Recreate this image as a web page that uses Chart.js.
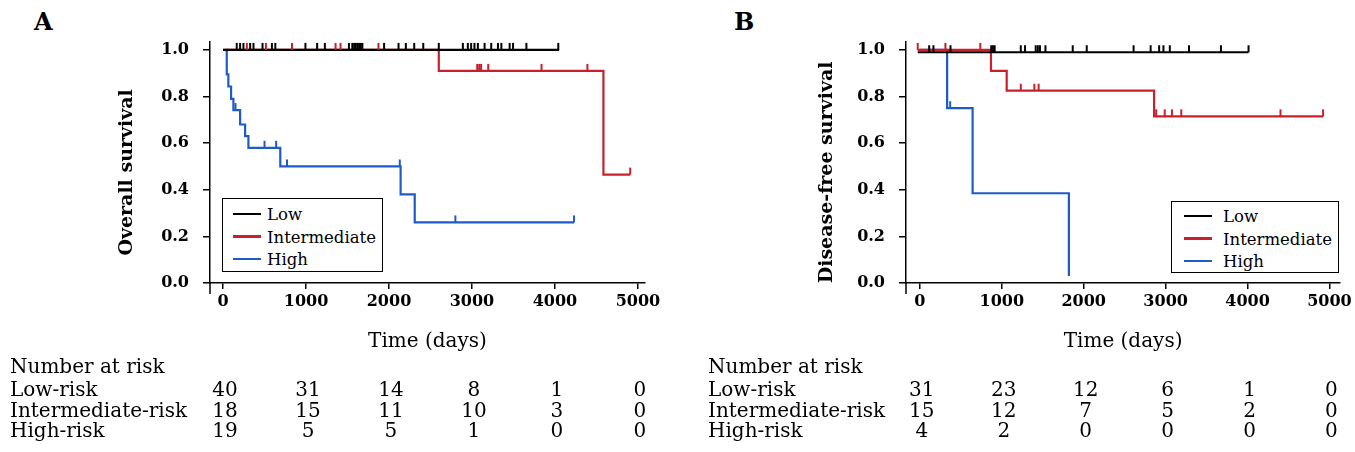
<!DOCTYPE html>
<html>
<head>
<meta charset="utf-8">
<script src="https://cdn.jsdelivr.net/npm/chart.js@4.4.1/dist/chart.umd.min.js"></script>
<style>
  body { margin:0; background:#fff; width:1355px; height:452px; overflow:hidden; position:relative; font-family:"DejaVu Serif", serif; color:#000; }
  .panel { position:absolute; top:0; }
  .letter { position:absolute; font-weight:bold; font-size:24px; }
  .legend { position:absolute; border:1.5px solid #000; background:#fff; font-size:16.5px; box-sizing:border-box; }
  .legend div { position:absolute; white-space:nowrap; transform:translateY(-50%); }
  .legend span { position:absolute; height:2.5px; }
  .risk { position:absolute; font-size:20px; white-space:nowrap; }
</style>
</head>
<body>
<div class="letter" style="left:34px;top:7px;">A</div>
<div class="letter" style="left:734px;top:7px;">B</div>
<canvas id="os" class="panel" style="left:0px;" width="677" height="356"></canvas>
<canvas id="dfs" class="panel" style="left:680px;" width="675" height="356"></canvas>

<script>
const xTicks = [0, 1000, 2000, 3000, 4000, 5000];
const yTicks = [0, 0.2, 0.4, 0.6, 0.8, 1.0];
const groups = ["Low", "Intermediate", "High"];
const riskRows = ["Low-risk", "Intermediate-risk", "High-risk"];
const colors = ["#000000", "#c8202c", "#1f5bc6"];

// A - overall survival: step times / survival after each step / censored times
const osLowT = [0, 4050];
const osLowS = [1.0, 1.0];
const osLowCens = [165,206,246,327,367,476,589,630,993,1134,1227,1517,1558,1580,1600,1620,1640,1660,1679,1941,2115,2203,2304,2413,2600,2890,2950,2990,3030,3071,3152,3232,3313,3354,3454,3495,3656,4040];
const osIntT = [0, 2600, 4584, 4907];
const osIntS = [1.0, 0.91, 0.465, 0.465];
const osIntCens = [287,517,831,1356,1416,1873,3063,3087,3110,3196,3838,4391,4907];
const osHighT = [40, 45, 64, 97, 125, 206, 266, 306, 690, 2140, 2310, 4230];
const osHighS = [1.0, 0.895, 0.843, 0.79, 0.742, 0.68, 0.63, 0.58, 0.50, 0.38, 0.26, 0.26];
const osHighCens = [150,500,640,771,2130,2800,4230];

// B - disease-free survival
const dfsLowT = [-26, 4012];
const dfsLowS = [0.99, 0.99];
const dfsLowCens = [114,166,374,872,894,913,1232,1284,1414,1440,1466,1533,1866,2037,2609,2817,2921,2973,3051,3285,3675,4012];
const dfsIntT = [-26, 868, 1060, 2859, 4922];
const dfsIntS = [1.0, 0.91, 0.825, 0.715, 0.715];
const dfsIntCens = [-26,312,738,1232,1398,1450,2885,2989,3077,3191,4402,4922];
const dfsHighT = [0, 333, 644, 1819];
const dfsHighS = [1.0, 0.75, 0.385, 0.03];
const dfsHighCens = [370];

// number at risk
const osRiskLow = [40, 31, 14, 8, 1, 0];
const osRiskInt = [18, 15, 11, 10, 3, 0];
const osRiskHigh = [19, 5, 5, 1, 0, 0];
const dfsRiskLow = [31, 23, 12, 6, 1, 0];
const dfsRiskInt = [15, 12, 7, 5, 2, 0];
const dfsRiskHigh = [4, 2, 0, 0, 0, 0];

const FONT = '"DejaVu Serif", serif';

function toPoints(ts, ss){
  return ts.map((t,i)=>({x:t, y:ss[i]}));
}

function survivalAt(points, t){
  let s = points[0].y;
  points.forEach(p=>{ if(p.x <= t) s = p.y; });
  return s;
}

const kmPlugin = {
  id: "km",
  afterDatasetsDraw(chart){
    const {ctx, chartArea, scales:{x, y}} = chart;
    chart.data.datasets.forEach(ds=>{
      ctx.save();
      ctx.strokeStyle = ds.borderColor;
      ctx.lineWidth = 2;
      ds.censor.forEach(t=>{
        const px = x.getPixelForValue(t);
        const py = y.getPixelForValue(survivalAt(ds.data, t));
        ctx.beginPath(); ctx.moveTo(px, py); ctx.lineTo(px, py - 7); ctx.stroke();
      });
      ctx.restore();
    });
    // y axis runs a little past the x axis
    ctx.save();
    ctx.strokeStyle = "#000"; ctx.lineWidth = 1.5;
    ctx.beginPath(); ctx.moveTo(chartArea.left, chartArea.bottom); ctx.lineTo(chartArea.left, chartArea.bottom + 11); ctx.stroke();
    ctx.restore();
  }
};

function makePanel(id, yTitle, curves, xMin, xMax, yAxisW, rightPad, titlePad){
  return new Chart(document.getElementById(id), {
    type: "line",
    data: {
      datasets: curves.map((c,i)=>({
        label: groups[i],
        data: toPoints(c[0], c[1]),
        censor: c[2],
        borderColor: colors[i],
        borderWidth: 2.2,
        stepped: "before",
        pointRadius: 0,
        fill: false
      }))
    },
    options: {
      responsive: false,
      animation: false,
      layout: { padding: { left: 0, top: 42, right: rightPad, bottom: 0 } },
      plugins: { legend: { display: false }, tooltip: { enabled: false } },
      scales: {
        x: {
          type: "linear", min: xMin, max: xMax,
          afterBuildTicks: s => { s.ticks = xTicks.map(v=>({value:v})); },
          afterFit: s => { s.height = 356 - 283; },
          grid: { display: true, drawOnChartArea: false, drawTicks: true, tickLength: 6, color: "#000", lineWidth: 1.5 },
          border: { display: true, color: "#000", width: 1.5 },
          ticks: { color: "#000", font: { family: FONT, size: 16, weight: "bold" }, padding: 3, maxRotation: 0, autoSkip: false, callback: v => String(v) },
          title: { display: true, text: "Time (days)", color: "#000", font: { family: FONT, size: 20 }, padding: { top: 0, bottom: 2 } }
        },
        y: {
          type: "linear", min: 0, max: 1.034,
          afterBuildTicks: s => { s.ticks = yTicks.map(v=>({value:v})); },
          afterFit: s => { s.width = yAxisW; },
          grid: { display: true, drawOnChartArea: false, drawTicks: true, tickLength: 7, color: "#000", lineWidth: 1.5 },
          border: { display: true, color: "#000", width: 1.5 },
          ticks: { color: "#000", font: { family: FONT, size: 16, weight: "bold" }, padding: 14, callback: v => v.toFixed(1) },
          // trailing spaces nudge the rotated title a little lower, as in the figure
          title: { display: true, text: yTitle + "   ", color: "#000", font: { family: FONT, size: 19, weight: "bold" }, padding: { top: titlePad, bottom: 0 } }
        }
      }
    },
    plugins: [kmPlugin]
  });
}

function addLegend(chart, left, top, w, h, rowY, lineX, textX){
  const box = document.createElement("div");
  box.className = "legend";
  Object.assign(box.style, { left: left+"px", top: top+"px", width: w+"px", height: h+"px" });
  chart.data.datasets.forEach((ds,i)=>{
    const ln = document.createElement("span");
    Object.assign(ln.style, { left: lineX+"px", width: "28px", top: (rowY[i]-1.5)+"px", background: ds.borderColor });
    const tx = document.createElement("div");
    tx.textContent = ds.label;
    Object.assign(tx.style, { left: textX+"px", top: rowY[i]+"px" });
    box.appendChild(ln); box.appendChild(tx);
  });
  document.body.appendChild(box);
}

function addRiskTable(chart, panelLeft, labelLeft, rows){
  const put = (text, x, y, center) => {
    const d = document.createElement("div");
    d.className = "risk";
    d.textContent = text;
    d.style.left = x + "px";
    d.style.top = y + "px";
    d.style.transform = center ? "translate(-50%,-50%)" : "translateY(-50%)";
    document.body.appendChild(d);
  };
  put("Number at risk", labelLeft, 366, false);
  const rowY = [389, 409.5, 430];
  rows.forEach((vals, r)=>{
    put(riskRows[r], labelLeft, rowY[r], false);
    vals.forEach((v, c)=>{
      put(String(v), panelLeft + chart.scales.x.getPixelForValue(xTicks[c]) + 2, rowY[r], true);
    });
  });
}

const osChart = makePanel("os", "Overall survival",
  [[osLowT, osLowS, osLowCens], [osIntT, osIntS, osIntCens], [osHighT, osHighS, osHighCens]],
  -157, 5085, 210, 32, 116);
const dfsChart = makePanel("dfs", "Disease-free survival",
  [[dfsLowT, dfsLowS, dfsLowCens], [dfsIntT, dfsIntS, dfsIntCens], [dfsHighT, dfsHighS, dfsHighCens]],
  -169, 5130, 226, 10, 136);

addLegend(osChart, 222, 198, 161, 74, [15, 37.5, 60], 10, 44);
addLegend(dfsChart, 1171, 201, 168, 72, [14, 36.5, 59], 12, 51);

addRiskTable(osChart, 0, 10, [osRiskLow, osRiskInt, osRiskHigh]);
addRiskTable(dfsChart, 680, 708, [dfsRiskLow, dfsRiskInt, dfsRiskHigh]);
</script>
</body>
</html>
